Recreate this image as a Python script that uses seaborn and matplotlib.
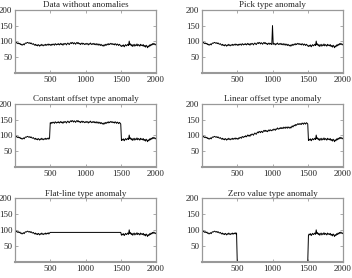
import numpy as np
import matplotlib
matplotlib.use('Agg')
import matplotlib.pyplot as plt
import seaborn as sns

sns.set_style('ticks')
plt.rcParams['font.family'] = ['Liberation Serif', 'DejaVu Serif']
plt.rcParams['xtick.direction'] = 'in'
plt.rcParams['ytick.direction'] = 'in'

base = [
    96, 94, 97, 95, 93, 95, 92, 94, 90, 91, 88, 90, 92, 89, 93, 95, 94, 96, 97, 95,
    94, 96, 93, 95, 92, 91, 93, 90, 88, 91, 87, 89, 86, 90, 88, 85, 89, 87, 91, 88,
    86, 89, 88, 91, 87, 90, 89, 92, 88, 91, 90, 87, 91, 89, 92, 90, 88, 93, 91, 89,
    92, 90, 93, 89, 91, 94, 90, 92, 88, 93, 91, 94, 92, 89, 93, 95, 92, 90, 94, 96,
    93, 97, 95, 92, 96, 94, 91, 95, 97, 93, 96, 92, 94, 90, 93, 95, 91, 94, 92, 90,
    93, 91, 94, 92, 89, 93, 91, 95, 92, 90, 93, 91, 94, 90, 92, 89, 93, 91, 88, 92,
    90, 87, 91, 88, 86, 89, 85, 88, 91, 87, 90, 92, 89, 93, 90, 92, 94, 91, 93, 90,
    92, 89, 93, 91, 88, 92, 90, 87, 91, 89, 86, 84, 88, 85, 89, 83, 87, 90, 86, 88,
    91, 87, 101, 89, 92, 86, 90, 84, 88, 91, 85, 89, 87, 92, 86, 90, 88, 85, 91, 87,
    89, 86, 90, 84, 87, 82, 88, 85, 80, 86, 83, 89, 86, 91, 88, 93, 90, 94, 91, 89,
    92,
]
t = np.arange(0, 2001, 10)

# anomaly settings
anom_start, anom_end = 500, 1500
spike_at, spike_val = 1000, 150
const_offset = 50
ramp_end_offset = 50
flat_val = 93

titles = ['Data without anomalies', 'Pick type anomaly',
          'Constant offset type anomaly', 'Linear offset type anomaly',
          'Flat-line type anomaly', 'Zero value type anomaly']

y0 = np.array(base, dtype=float)
win = (t >= anom_start) & (t <= anom_end)

pick = y0.copy()
pick[t == spike_at] = spike_val

const = y0.copy()
const[win] += const_offset

linear = y0.copy()
linear[win] += (t[win] - anom_start) / (anom_end - anom_start) * ramp_end_offset

flat = y0.copy()
flat[win] = flat_val

zero = y0.copy()
zero[win] = 0

series = [y0, pick, const, linear, flat, zero]

fig = plt.figure(figsize=(3.52, 2.78), dpi=100)
lefts = [15 / 352, 202 / 352]
width = 141 / 352
bottoms = [0.737, 0.399, 0.058]
height = 0.228

for i, (y, title) in enumerate(zip(series, titles)):
    ax = fig.add_axes([lefts[i % 2], bottoms[i // 2], width, height])
    sns.lineplot(x=t, y=y, ax=ax, color='black', lw=0.7)
    ax.set_xlim(0, 2000)
    ax.set_ylim(0, 200)
    ax.set_xticks([500, 1000, 1500, 2000])
    ax.set_yticks([50, 100, 150, 200])
    ax.tick_params(labelsize=6.5, length=2, width=0.5, color='#888888',
                   top=True, right=True, pad=2)
    for name, s in ax.spines.items():
        s.set_color('#999999')
        s.set_linewidth(1.5 if name == 'bottom' else 0.9)
        s.set_zorder(5)
    ax.set_title(title, fontsize=6.5, pad=2)

fig.savefig('out.png', dpi=100)
